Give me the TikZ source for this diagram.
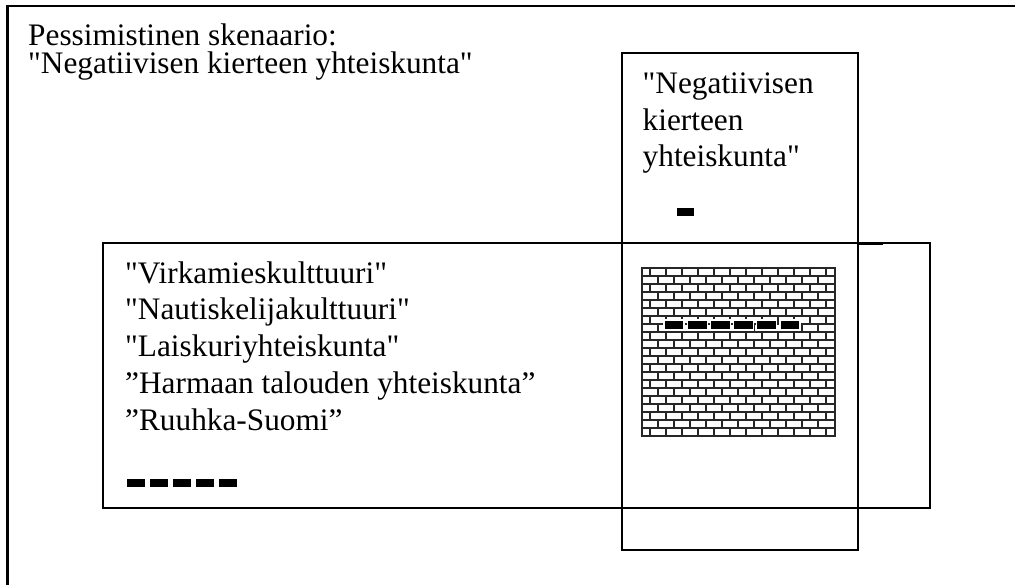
\documentclass[tikz,border=0pt]{standalone}
\usepackage{fontspec}
\newfontfamily\tnr{Liberation Serif}
\begin{document}
\begin{tikzpicture}[x=1pt,y=-1pt,
  txt/.style={anchor=base west,inner sep=0pt,font=\tnr\fontsize{31.3}{36}\selectfont},
  frameline/.style={line width=2.2pt},
  boxline/.style={line width=1.6pt},
  blk/.style={fill=black,draw=white,line width=1.2pt},
  brickline/.style={line width=1.3pt,draw=black!85}]
\useasboundingbox (0,0) rectangle (1015,585);
\fill[white] (0,0) rectangle (1015,585);
% outer frame (continues beyond the page)
\draw[frameline] (7.5,600) -- (7.5,6) -- (1030,6);
% tall box and wide box
\draw[boxline] (622,53) rectangle (858,550);
\draw[boxline] (103,243) rectangle (930,508);
\draw[line width=2.4pt] (858,244) -- (883,244);
\draw[line width=2.2pt] (858,508) -- (868,508);
% texts
\node[txt,align=left,font=\tnr\fontsize{31.3}{27.3}\selectfont] (title) at (28,73.3)
  {Pessimistinen skenaario:\\"Negatiivisen kierteen yhteiskunta"};
\node[txt] (tall1) at (642.5,93.3) {"Negatiivisen};
\node[txt] (tall2) at (642.5,130.5) {kierteen};
\node[txt] (tall3) at (642.5,166.5) {yhteiskunta"};
\node[txt] (w1) at (125,283.3) {"Virkamieskulttuuri"};
\node[txt] (w2) at (125,320) {"Nautiskelijakulttuuri"};
\node[txt] (w3) at (125,356.5) {"Laiskuriyhteiskunta"};
\node[txt] (w4) at (125,393.3) {”Harmaan talouden yhteiskunta”};
\node[txt] (w5) at (125,430) {”Ruuhka-Suomi”};
% brick wall
\fill[white] (642,268) rectangle (835,436);
\foreach \k in {0,...,20}{
  \pgfmathsetmacro\ya{268+8*\k}
  \pgfmathsetmacro\yb{\ya+8}
  \draw[brickline] (642,\ya) -- (835,\ya);
  \pgfmathtruncatemacro\oddrow{mod(\k,2)}
  \ifnum\oddrow=0
    \foreach \j in {0,...,11}{\draw[brickline] ({650+16*\j},\ya) -- ({650+16*\j},\yb);}
  \else
    \foreach \j in {1,...,11}{\draw[brickline] ({642+16*\j},\ya) -- ({642+16*\j},\yb);}
  \fi
}
\draw[brickline] (642,268) rectangle (835,436);
% dashes
\foreach \i in {0,...,5} \draw[blk] ({664+23.2*\i},320) rectangle ++(20,10);
\foreach \i in {0,...,4} \draw[blk] ({126+23*\i},478) rectangle ++(20,10);
\fill (677,208) rectangle (694,216);
\end{tikzpicture}
\end{document}
